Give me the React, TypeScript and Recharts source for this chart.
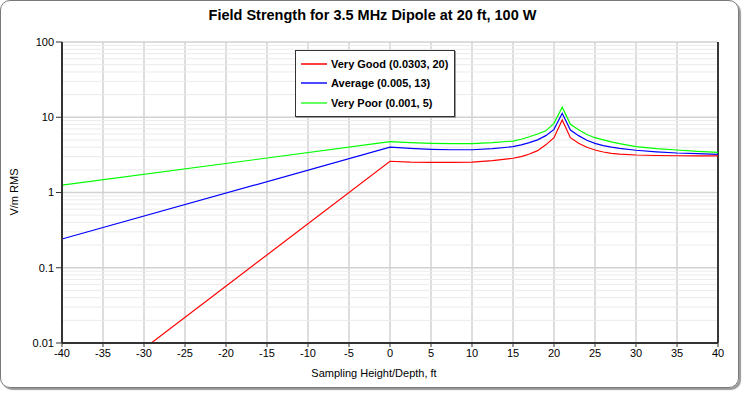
import React from "react";
import {
  LineChart,
  Line,
  XAxis,
  YAxis,
  CartesianGrid,
  ReferenceLine,
  Legend,
} from "recharts";

const heights = [-40, 0, 2.5, 5, 7.5, 10, 12.5, 15, 16, 17, 18, 19, 20, 21, 22, 23, 24, 25, 26, 27, 28, 30, 32.5, 35, 37.5, 40];
const veryGood = [0.00125, 2.6, 2.54, 2.52, 2.52, 2.54, 2.65, 2.85, 3.0, 3.25, 3.6, 4.3, 5.35, 9.2, 5.35, 4.5, 4.0, 3.67, 3.45, 3.32, 3.24, 3.15, 3.1, 3.08, 3.07, 3.06];
const average = [0.241, 4.0, 3.85, 3.75, 3.7, 3.7, 3.82, 4.06, 4.3, 4.6, 5.0, 5.7, 6.9, 11.3, 6.77, 5.7, 4.95, 4.5, 4.2, 4.0, 3.85, 3.64, 3.47, 3.35, 3.28, 3.22];
const veryPoor = [1.25, 4.73, 4.6, 4.5, 4.45, 4.45, 4.6, 4.83, 5.1, 5.5, 6.0, 6.6, 8.3, 13.6, 8.06, 6.8, 5.9, 5.35, 5.0, 4.7, 4.45, 4.06, 3.83, 3.67, 3.53, 3.42];

const xTicks = [-40, -35, -30, -25, -20, -15, -10, -5, 0, 5, 10, 15, 20, 25, 30, 35, 40];
const yTicks = [0.01, 0.1, 1, 10, 100];
const minorY = [
  0.02, 0.03, 0.04, 0.05, 0.06, 0.07, 0.08, 0.09,
  0.2, 0.3, 0.4, 0.5, 0.6, 0.7, 0.8, 0.9,
  2, 3, 4, 5, 6, 7, 8, 9,
  20, 30, 40, 50, 60, 70, 80, 90,
];

const seriesInfo = [
  { key: "good", name: "Very Good (0.0303, 20)", color: "#ff0000", legendColor: "#ff4040" },
  { key: "avg", name: "Average (0.005, 13)", color: "#0000ff", legendColor: "#4a4aff" },
  { key: "poor", name: "Very Poor (0.001, 5)", color: "#00ff00", legendColor: "#66ff66" },
];

const data = heights.map((h, i) => ({
  h,
  good: veryGood[i],
  avg: average[i],
  poor: veryPoor[i],
}));

const FONT = '"Liberation Sans", Arial, sans-serif';

const LegendBox = () => (
  <div
    style={{
      border: "1px solid #333",
      boxShadow: "1px 1px 0 #999",
      background: "#fff",
      padding: "3px 6px 3px 5px",
      fontFamily: FONT,
      fontSize: 11,
      fontWeight: "bold",
      color: "#000",
    }}
  >
    {seriesInfo.map((s) => (
      <div key={s.key} style={{ display: "flex", alignItems: "center", height: 19.5 }}>
        <div style={{ width: 26, height: 2, background: s.legendColor, marginRight: 4 }} />
        <span>{s.name}</span>
      </div>
    ))}
  </div>
);

export default function App() {
  return (
    <div
      style={{
        position: "absolute",
        left: 0,
        top: 0,
        width: 745,
        height: 394,
        background: "#fff",
        fontFamily: FONT,
      }}
    >
      <div
        style={{
          position: "absolute",
          left: 0,
          top: 0,
          width: 739,
          height: 388,
          border: "1.5px solid #7a7a7a",
          borderRadius: 10,
          boxShadow: "2px 2px 1px #9a9a9a",
          boxSizing: "border-box",
        }}
      />
      <div
        style={{
          position: "absolute",
          left: 0,
          width: 745,
          top: 7,
          textAlign: "center",
          fontSize: 14.5,
          fontWeight: "bold",
          color: "#000",
        }}
      >
        Field Strength for 3.5 MHz Dipole at 20 ft, 100 W
      </div>
      <div
        style={{
          position: "absolute",
          left: 0,
          width: 748,
          top: 367,
          textAlign: "center",
          fontSize: 11,
          color: "#000",
        }}
      >
        Sampling Height/Depth, ft
      </div>
      <div
        style={{
          position: "absolute",
          left: 14,
          top: 192,
          transform: "translate(-50%, -50%) rotate(-90deg)",
          fontSize: 11,
          color: "#000",
          whiteSpace: "nowrap",
        }}
      >
        V/m RMS
      </div>
      <div style={{ position: "absolute", left: 0, top: 0 }}>
        <LineChart
          width={745}
          height={394}
          data={data}
          margin={{ top: 42, right: 27, bottom: 0, left: 0 }}
        >
          <CartesianGrid stroke="#d2d2d2" strokeWidth={1.5} />
          {minorY.map((v) => (
            <ReferenceLine key={v} y={v} stroke="#ebebeb" strokeWidth={1} />
          ))}
          <ReferenceLine x={40} stroke="#000" strokeWidth={1.5} />
          <XAxis
            dataKey="h"
            type="number"
            domain={[-40, 40]}
            ticks={xTicks}
            interval={0}
            height={51}
            tickSize={4}
            tickMargin={2}
            axisLine={{ stroke: "#333", strokeWidth: 2 }}
            tickLine={{ stroke: "#333" }}
            tick={{ fill: "#000", fontSize: 11, fontFamily: FONT }}
          />
          <YAxis
            scale="log"
            type="number"
            domain={[0.01, 100]}
            ticks={yTicks}
            allowDataOverflow
            interval={0}
            width={62}
            tickSize={6}
            tickMargin={2}
            axisLine={{ stroke: "#333", strokeWidth: 2 }}
            tickLine={{ stroke: "#333" }}
            tick={{ fill: "#000", fontSize: 11, fontFamily: FONT }}
            tickFormatter={(v: number) => String(v)}
          />
          <Legend
            layout="vertical"
            align="center"
            verticalAlign="middle"
            wrapperStyle={{ left: 295, top: 50, width: "auto", height: "auto" }}
            content={() => <LegendBox />}
          />
          {seriesInfo.map((s) => (
            <Line
              key={s.key}
              dataKey={s.key}
              name={s.name}
              type="linear"
              stroke={s.color}
              strokeWidth={1.2}
              dot={false}
              activeDot={false}
              isAnimationActive={false}
            />
          ))}
        </LineChart>
      </div>
    </div>
  );
}
